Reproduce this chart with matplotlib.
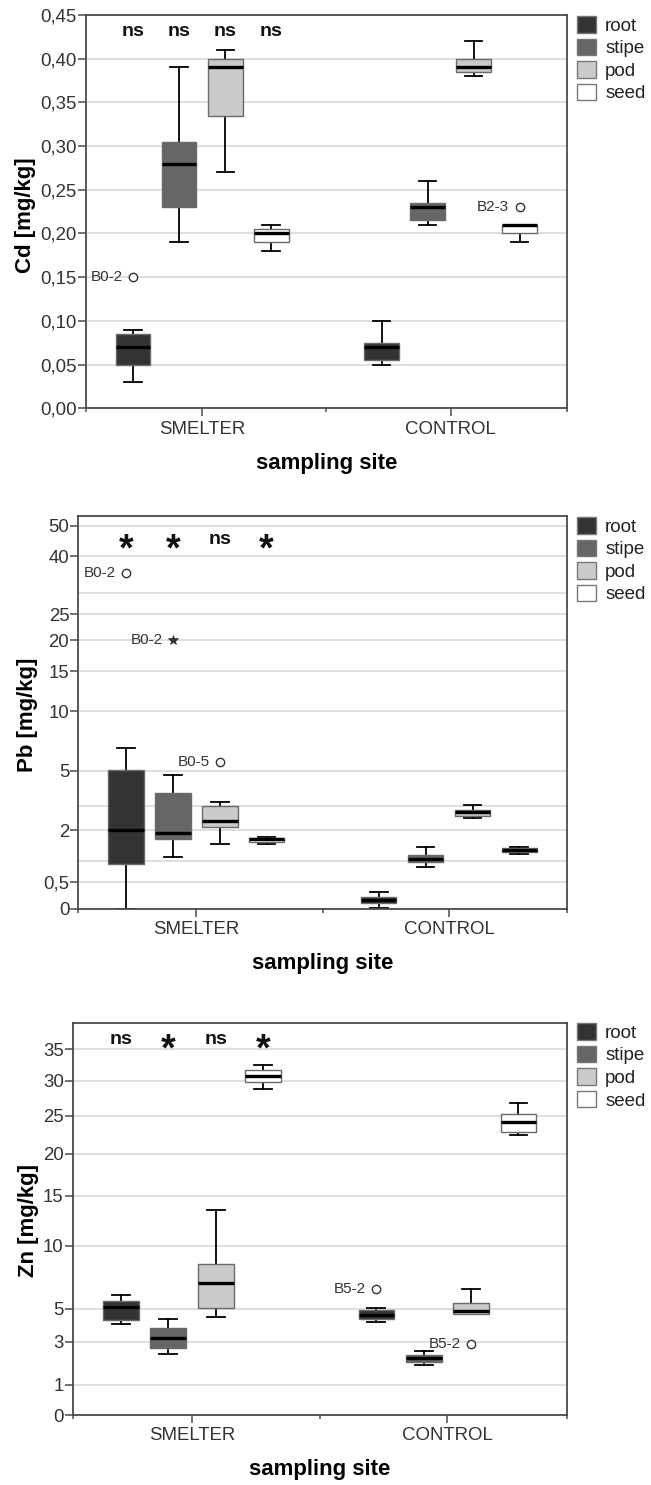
import numpy as np
import matplotlib
matplotlib.use('Agg')
import matplotlib.pyplot as plt
from matplotlib.patches import Patch
from matplotlib.ticker import FixedLocator
import matplotlib.transforms as mtransforms

plt.rcParams['font.family'] = ['Liberation Sans', 'DejaVu Sans']

# ---------------- data ----------------
sites = ['SMELTER', 'CONTROL']
organs = ['root', 'stipe', 'pod', 'seed']

# order of 8 boxes: SMELTER root, stipe, pod, seed, CONTROL root, stipe, pod, seed
cd_whislo = [0.03, 0.19, 0.27, 0.18, 0.05, 0.21, 0.38, 0.19]
cd_q1 = [0.05, 0.23, 0.335, 0.19, 0.055, 0.215, 0.385, 0.20]
cd_med = [0.07, 0.28, 0.39, 0.20, 0.07, 0.23, 0.39, 0.21]
cd_q3 = [0.085, 0.305, 0.40, 0.205, 0.075, 0.235, 0.40, 0.21]
cd_whishi = [0.09, 0.39, 0.41, 0.21, 0.10, 0.26, 0.42, 0.21]
cd_out_idx = [0, 7]
cd_out_val = [0.15, 0.23]
cd_out_lab = ['B0-2', 'B2-3']
cd_out_mark = ['o', 'o']
cd_sig = ['ns', 'ns', 'ns', 'ns']
cd_ticks = [0.00, 0.05, 0.10, 0.15, 0.20, 0.25, 0.30, 0.35, 0.40, 0.45]
cd_ticklabels = ['0,00', '0,05', '0,10', '0,15', '0,20', '0,25', '0,30', '0,35', '0,40', '0,45']

pb_whislo = [0.0, 1.14, 1.55, 1.54, 0.01, 0.87, 2.51, 1.22]
pb_q1 = [0.92, 1.70, 2.14, 1.63, 0.10, 0.97, 2.58, 1.30]
pb_med = [2.0, 1.91, 2.39, 1.71, 0.16, 1.06, 2.74, 1.35]
pb_q3 = [5.1, 3.72, 3.02, 1.75, 0.23, 1.18, 2.83, 1.41]
pb_whishi = [6.9, 4.77, 3.25, 1.78, 0.32, 1.45, 3.04, 1.45]
pb_out_idx = [0, 1, 2]
pb_out_val = [35.3, 20.0, 5.7]
pb_out_lab = ['B0-2', 'B0-2', 'B0-5']
pb_out_mark = ['o', '*', 'o']
pb_sig = ['*', '*', 'ns', '*']
pb_ticks = [0, 0.5, 2, 5, 10, 15, 20, 25, 40, 50]
pb_ticklabels = ['0', '0,5', '2', '5', '10', '15', '20', '25', '40', '50']
pb_extra_grid = [1, 3, 30]

zn_whislo = [4.08, 2.43, 4.5, 28.9, 4.22, 1.93, 4.68, 22.5]
zn_q1 = [4.32, 2.74, 5.03, 29.8, 4.40, 2.09, 4.68, 22.85]
zn_med = [5.1, 3.26, 7.01, 30.8, 4.64, 2.24, 4.88, 24.1]
zn_q3 = [5.61, 3.86, 8.52, 31.7, 4.92, 2.40, 5.48, 25.2]
zn_whishi = [6.08, 4.38, 13.6, 32.5, 5.03, 2.60, 6.53, 26.8]
zn_out_idx = [4, 6]
zn_out_val = [6.53, 2.89]
zn_out_lab = ['B5-2', 'B5-2']
zn_out_mark = ['o', 'o']
zn_sig = ['ns', '*', 'ns', '*']
zn_ticks = [0, 1, 3, 5, 10, 15, 20, 25, 30, 35]
zn_ticklabels = ['0', '1', '3', '5', '10', '15', '20', '25', '30', '35']

# ---------------- axis scale definitions (nonlinear custom scales) ----------------
pb_scale_vals = np.array([0, 0.5, 1, 2, 3, 5, 10, 15, 20, 25, 30, 40, 50, 60], float)
pb_scale_pos = np.array([0, 79, 143, 236, 308, 414, 592, 712, 806, 884, 948, 1058, 1149, 1240], float)
zn_scale_vals = np.array([0, 1, 3, 5, 10, 15, 20, 25, 30, 35, 45], float)
zn_scale_pos = np.array([0, 90, 219, 319, 508, 658, 784, 898, 1002, 1097, 1287], float)


def make_scale(vals, pos):
    def fwd(v):
        return np.interp(v, vals, pos)

    def inv(p):
        return np.interp(p, pos, vals)
    return fwd, inv


# ---------------- styling ----------------
organ_colors = ['#333333', '#666666', '#cbcbcb', '#ffffff']
spine_col = '#4a4a4a'
grid_col = '#d6d6d6'
text_col = '#333333'
offsets = [-0.278, -0.093, 0.093, 0.278]
box_w = 0.14

W, H = 651, 1485
fig = plt.figure(figsize=(W / 100, H / 100), dpi=100)


def px_axes(left, top, right, bottom):
    return fig.add_axes([left / W, 1 - bottom / H, (right - left) / W, (bottom - top) / H])


def draw_panel(ax, whislo, q1, med, q3, whishi, out_idx, out_val, out_lab, out_mark,
               sig, sig_y, ylabel, ylim, ticks, ticklabels, ylabel_xy, extra_grid=None,
               scale=None):
    if scale is not None:
        ax.set_yscale('function', functions=scale)
    ax.set_xlim(-0.467, 1.468)
    ax.set_ylim(*ylim)

    positions = []
    stats = []
    for s in range(2):
        for o in range(4):
            i = s * 4 + o
            positions.append(s + offsets[o])
            stats.append(dict(med=med[i], q1=q1[i], q3=q3[i],
                              whislo=whislo[i], whishi=whishi[i], fliers=[]))
    bp = ax.bxp(stats, positions=positions, widths=box_w, patch_artist=True,
                showfliers=False, manage_ticks=False,
                boxprops=dict(edgecolor='#6a6a6a', linewidth=1.0),
                medianprops=dict(color='black', linewidth=2.4, solid_capstyle='butt'),
                whiskerprops=dict(color='black', linewidth=1.3),
                capprops=dict(color='black', linewidth=1.3))
    for k, patch in enumerate(bp['boxes']):
        patch.set_facecolor(organ_colors[k % 4])
        patch.set_zorder(3)
    for line in bp['medians']:
        line.set_zorder(4)

    # outliers
    for idx, val, lab, mk in zip(out_idx, out_val, out_lab, out_mark):
        x = positions[idx]
        if mk == 'o':
            ax.plot([x], [val], marker='o', ms=6, mfc='white', mec='#333333', mew=1.0,
                    ls='none', zorder=5)
        else:
            ax.plot([x], [val], marker='*', ms=7, mfc='#333333', mec='#333333', mew=0.5,
                    ls='none', zorder=5)
        ax.annotate(lab, (x, val), xytext=(-7.5, 0), textcoords='offset points',
                    ha='right', va='center', fontsize=11, color=text_col)

    # significance marks
    trans = mtransforms.blended_transform_factory(ax.transData, ax.transAxes)
    for o, s in enumerate(sig):
        if s == '*':
            ax.text(offsets[o], sig_y - 0.028, s, transform=trans, ha='center', va='center',
                    fontsize=27, fontweight='bold', color='#111111')
        else:
            ax.text(offsets[o], sig_y, s, transform=trans, ha='center', va='center',
                    fontsize=14, fontweight='bold', color='#111111')

    # y axis
    ax.yaxis.set_major_locator(FixedLocator(ticks))
    ax.set_yticklabels(ticklabels)
    if extra_grid is not None:
        ax.yaxis.set_minor_locator(FixedLocator(extra_grid))
    ax.yaxis.grid(True, which='both', color=grid_col, linewidth=1.1)
    ax.set_axisbelow(True)
    ax.tick_params(axis='y', which='major', direction='out', length=6, width=1.1,
                   color=spine_col, labelsize=13.4, labelcolor=text_col, pad=0.5)
    ax.tick_params(axis='y', which='minor', length=0)

    # x axis
    ax.set_xticks([0, 1])
    ax.set_xticklabels(sites)
    ax.set_xticks([-0.467, 0.5, 1.468], minor=True)
    ax.tick_params(axis='x', which='major', direction='out', length=6, width=1.1,
                   color=spine_col, labelsize=13.4, labelcolor=text_col, pad=3)
    ax.tick_params(axis='x', which='minor', direction='out', length=3, width=1.1,
                   color=spine_col)

    for sp in ax.spines.values():
        sp.set_color(spine_col)
        sp.set_linewidth(1.3)

    ax.set_ylabel(ylabel, fontsize=16, fontweight='bold', va='center', color='black')
    ax.yaxis.set_label_coords(*ylabel_xy)
    ax.set_xlabel('sampling site', fontsize=16, fontweight='bold', va='center', color='black')
    ax.xaxis.set_label_coords(0.5, -0.14)


def add_legend(ax, left_px, top_px):
    handles = [Patch(facecolor=c, edgecolor='#777777', linewidth=1.0) for c in organ_colors]
    ax.legend(handles, organs, loc='upper left',
              bbox_to_anchor=(left_px / W, 1 - top_px / H), bbox_transform=fig.transFigure,
              frameon=False, borderpad=0, borderaxespad=0, handlelength=1.0,
              handleheight=1.0, handletextpad=0.5, labelspacing=0.2, fontsize=13.5,
              labelcolor='#222222')


# Panel 1: Cd
ax1 = px_axes(86, 15, 567, 408.3)
draw_panel(ax1, cd_whislo, cd_q1, cd_med, cd_q3, cd_whishi, cd_out_idx, cd_out_val,
           cd_out_lab, cd_out_mark, cd_sig, 0.957, 'Cd [mg/kg]', (0, 0.45), cd_ticks,
           cd_ticklabels, (-0.126, 0.49))
add_legend(ax1, 577, 16)

# Panel 2: Pb
ax2 = px_axes(78.3, 515.7, 567.3, 908.7)
draw_panel(ax2, pb_whislo, pb_q1, pb_med, pb_q3, pb_whishi, pb_out_idx, pb_out_val,
           pb_out_lab, pb_out_mark, pb_sig, 0.94, 'Pb [mg/kg]', (0, 53.3), pb_ticks,
           pb_ticklabels, (-0.103, 0.493), extra_grid=pb_extra_grid,
           scale=make_scale(pb_scale_vals, pb_scale_pos))
add_legend(ax2, 577, 517)

# Panel 3: Zn
ax3 = px_axes(72.7, 1022.7, 567, 1415)
draw_panel(ax3, zn_whislo, zn_q1, zn_med, zn_q3, zn_whishi, zn_out_idx, zn_out_val,
           zn_out_lab, zn_out_mark, zn_sig, 0.956, 'Zn [mg/kg]', (0, 39.2), zn_ticks,
           zn_ticklabels, (-0.09, 0.497),
           scale=make_scale(zn_scale_vals, zn_scale_pos))
add_legend(ax3, 577, 1023)

fig.savefig('out.png', dpi=100)
